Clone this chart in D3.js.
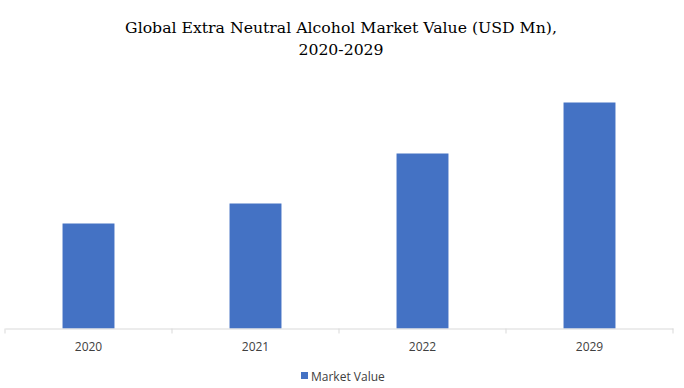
<!DOCTYPE html>
<html><head><meta charset="utf-8">
<script src="https://cdn.jsdelivr.net/npm/d3@7"></script>
<style>body{margin:0;background:#fff}svg{display:block}</style>
</head><body>
<svg id="c" width="684" height="388"></svg>
<script>
const categories = ["2020", "2021", "2022", "2029"];
const values = [105, 125, 175, 226];
const seriesName = "Market Value";
const titleLines = ["Global Extra Neutral Alcohol Market Value (USD Mn),", "2020-2029"];

const svg = d3.select("#c");
const W = 684, H = 388;
const x0 = 5, x1 = 673, yBase = 328.5;

const xTick = d3.scaleBand().domain(categories).range([x0, x1]).padding(0);
const x = d3.scaleBand().domain(categories).range([x0, x1]).paddingInner(0.689).paddingOuter(0.3445);
const y = d3.scaleLinear().domain([0, 250]).range([yBase, yBase - 250]);

svg.append("g").selectAll("text").data(titleLines).join("text")
  .attr("x", 341).attr("y", (d, i) => 33 + i * 22)
  .attr("text-anchor", "middle")
  .attr("font-family", "'DejaVu Serif', serif")
  .attr("font-size", 15.7).attr("fill", "#000")
  .text(d => d);

svg.append("g").selectAll("rect").data(categories).join("rect")
  .attr("x", d => x(d)).attr("width", x.bandwidth())
  .attr("y", (d, i) => y(values[i])).attr("height", (d, i) => yBase - y(values[i]))
  .attr("fill", "#4472C4");

const axis = d3.axisBottom(xTick).tickSize(0).tickPadding(14);
const g = svg.append("g").attr("transform", `translate(0,${yBase})`).call(axis);
g.select(".domain").attr("stroke", "#d9d9d9");
g.selectAll("text").attr("font-family", "'Open Sans', sans-serif").attr("font-size", 12).attr("fill", "#404040");
const bounds = categories.map(c => xTick(c)).concat([x1]);
g.selectAll("line.bd").data(bounds).join("line").attr("class", "bd")
  .attr("x1", d => d).attr("x2", d => d).attr("y1", 0).attr("y2", 5)
  .attr("stroke", "#d9d9d9");

const leg = svg.append("g").attr("transform", "translate(301,372)");
leg.append("rect").attr("width", 7).attr("height", 7).attr("fill", "#4472C4");
leg.append("text").attr("x", 10).attr("y", 8.5).attr("font-family", "'Open Sans', sans-serif")
  .attr("font-size", 12).attr("fill", "#404040").text(seriesName);
</script>
</body></html>
